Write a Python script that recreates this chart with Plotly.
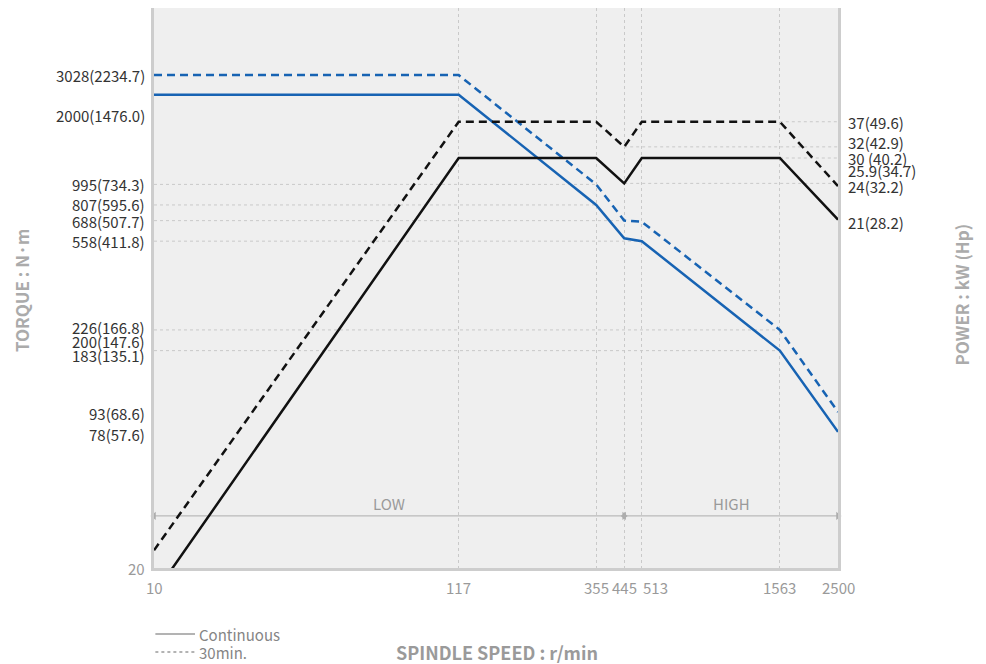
import math

import plotly.graph_objects as go

FONT = "Noto Sans CJK KR"
COLOR_BLUE = "#1763B3"
COLOR_BLACK = "#111111"
COLOR_GRID = "#C9C9C9"
COLOR_BORDER = "#CDCDCD"
COLOR_MUTED = "#9A9A9A"
COLOR_TEXT = "#333333"

# spindle speed break points (r/min)
speed = [10, 117, 355, 445, 513, 1563, 2500]

# torque, N·m
torque_cont = [2480, 2480, 807, 575, 558, 183, 80]
torque_30min = [3028, 3028, 995, 688, 680, 226, 98]

# power, kW
power_cont = [2.4, 30, 30, 25.9, 30, 30, 21]
power_30min = [3.1, 37, 37, 32, 37, 37, 25.5]

speed_ticks = [10, 117, 355, 445, 513, 1563, 2500]

torque_ticks = [3028, 2000, 995, 807, 688, 558, 226, 200, 183, 93, 78, 20]
torque_tick_text = ["3028(2234.7)", "2000(1476.0)", "995(734.3)", "807(595.6)",
                    "688(507.7)", "558(411.8)", "226(166.8)", "200(147.6)",
                    "183(135.1)", "93(68.6)", "78(57.6)", "20"]

power_ticks = [37, 32, 30, 25.9, 24, 21]
power_tick_text = ["37(49.6)", "32(42.9)", "30 (40.2)", "25.9(34.7)", "24(32.2)", "21(28.2)"]

# dotted guide lines from the axes to the curve corners
torque_guides = [995, 807, 688, 558, 226, 183]
torque_guide_end = [355, 355, 445, 513, 1563, 1563]
power_guides = [37, 32, 30, 25.9]
power_guide_start = [1563, 445, 1563, 445]

gear_names = ["LOW", "HIGH"]
gear_from = [10, 445]
gear_to = [445, 2500]

legend_names = ["Continuous", "30min."]
legend_dash = ["solid", "dot"]

# label nudges (px) so crowded tick labels don't overlap
torque_label_shift = [0, 0, 0, 0, -1, 0, 2, 0, -5, 4, 0, 0]
power_label_shift = [-1, 4, 0, 13, 10, -3]
speed_label_shift = [0, 0, 0, 0, 14, 0, 0]

ARROW_Y = 34  # torque level of the LOW / HIGH range arrows

fig = go.Figure()

# guide lines
for val, end in zip(torque_guides, torque_guide_end):
    fig.add_trace(go.Scatter(
        x=[speed[0], end], y=[val, val], mode="lines",
        line=dict(color=COLOR_GRID, width=1, dash="dot"),
        showlegend=False, hoverinfo="skip",
    ))
for val, start in zip(power_guides, power_guide_start):
    fig.add_trace(go.Scatter(
        x=[start, speed[-1]], y=[val, val], mode="lines", yaxis="y2",
        line=dict(color=COLOR_GRID, width=1, dash="dot"),
        showlegend=False, hoverinfo="skip",
    ))

# gear range arrows
for name, a, b in zip(gear_names, gear_from, gear_to):
    fig.add_trace(go.Scatter(
        x=[a, b], y=[ARROW_Y, ARROW_Y], mode="lines+markers",
        line=dict(color="#ADADAD", width=1),
        marker=dict(symbol=["triangle-left", "triangle-right"], size=7, color="#ADADAD"),
        cliponaxis=False, showlegend=False, hoverinfo="skip",
    ))
    fig.add_annotation(
        x=math.log10(math.sqrt(a * b)), y=math.log10(ARROW_Y), xref="x", yref="y",
        text=name, showarrow=False, yshift=12,
        font=dict(family=FONT, size=15, color=COLOR_MUTED),
    )

# torque curves
fig.add_trace(go.Scatter(
    x=speed, y=torque_30min, mode="lines",
    line=dict(color=COLOR_BLUE, width=2.5, dash="8px,5px"),
    showlegend=False, name="Torque 30min.",
))
fig.add_trace(go.Scatter(
    x=speed, y=torque_cont, mode="lines",
    line=dict(color=COLOR_BLUE, width=2.5),
    showlegend=False, name="Torque continuous",
))

# power curves
fig.add_trace(go.Scatter(
    x=speed, y=power_30min, mode="lines", yaxis="y2",
    line=dict(color=COLOR_BLACK, width=2.5, dash="8px,5px"),
    showlegend=False, name="Power 30min.",
))
fig.add_trace(go.Scatter(
    x=speed, y=power_cont, mode="lines", yaxis="y2",
    line=dict(color=COLOR_BLACK, width=2.5),
    showlegend=False, name="Power continuous",
))

# line-style key under the plot (drawn by hand so it doesn't move the margins)
for i, (name, dash) in enumerate(zip(legend_names, legend_dash)):
    y = -0.118 - i * 0.032
    fig.add_shape(type="line", xref="paper", yref="paper", x0=0.002, x1=0.06, y0=y, y1=y,
                  line=dict(color=COLOR_MUTED, width=1.5, dash=dash))
    fig.add_annotation(x=0.063, y=y, xref="paper", yref="paper",
                       xanchor="left", yanchor="middle",
                       text=name, showarrow=False,
                       font=dict(family=FONT, size=15, color="#858585"))

# tick labels
for val, txt, dy in zip(torque_ticks, torque_tick_text, torque_label_shift):
    fig.add_annotation(
        x=0, xref="paper", xanchor="right", xshift=-7,
        y=math.log10(val), yref="y", yshift=dy,
        text=txt, showarrow=False,
        font=dict(family=FONT, size=15, color=COLOR_MUTED if val == 20 else COLOR_TEXT),
    )
for val, txt, dy in zip(power_ticks, power_tick_text, power_label_shift):
    fig.add_annotation(
        x=1, xref="paper", xanchor="left", xshift=8,
        y=math.log10(val), yref="y2", yshift=dy,
        text=txt, showarrow=False,
        font=dict(family=FONT, size=15, color=COLOR_TEXT),
    )
for val, dx in zip(speed_ticks, speed_label_shift):
    fig.add_annotation(
        x=math.log10(val), xref="x", xshift=dx,
        y=0, yref="paper", yanchor="top", yshift=-7,
        text=str(val), showarrow=False,
        font=dict(family=FONT, size=15, color=COLOR_MUTED),
    )

# axis titles
title_font = dict(family=FONT, size=17, color="#ABABAB", weight="bold")
fig.add_annotation(x=-0.194, y=0.495, xref="paper", yref="paper", text="TORQUE : N·m",
                   xanchor="center", yanchor="middle",
                   textangle=-90, showarrow=False, font=title_font)
fig.add_annotation(x=1.181, y=0.488, xref="paper", yref="paper", text="POWER : kW (Hp)",
                   xanchor="center", yanchor="middle",
                   textangle=-90, showarrow=False, font=title_font)
fig.add_annotation(x=0.502, y=-0.15, xref="paper", yref="paper", text="SPINDLE SPEED : r/min",
                   xanchor="center", yanchor="middle", showarrow=False,
                   font=dict(family=FONT, size=18, color=COLOR_MUTED, weight="bold"))

# the page body adds an 8px margin, so the figure is 8px smaller than the window
fig.update_layout(
    width=978,
    height=656,
    margin=dict(l=146, r=148, t=0, b=96, autoexpand=False),
    paper_bgcolor="white",
    plot_bgcolor="#EFEFEF",
    font=dict(family=FONT, color=COLOR_TEXT),
    xaxis=dict(
        type="log", range=[1, math.log10(2500)],
        tickvals=speed_ticks, showticklabels=False,
        showgrid=True, gridcolor=COLOR_GRID, griddash="dot", gridwidth=1,
        showline=True, linecolor=COLOR_BORDER, linewidth=3,
        ticks="", zeroline=False,
    ),
    yaxis=dict(
        type="log", range=[math.log10(20), 3.778],
        showticklabels=False, showgrid=False, ticks="",
        showline=True, linecolor=COLOR_BORDER, linewidth=3, zeroline=False,
    ),
    yaxis2=dict(
        type="log", range=[0.447, 1.854], overlaying="y", side="right",
        showticklabels=False, showgrid=False, ticks="",
        showline=True, linecolor=COLOR_BORDER, linewidth=3, zeroline=False,
    ),
    showlegend=False,
)

fig.write_html("out.html")
